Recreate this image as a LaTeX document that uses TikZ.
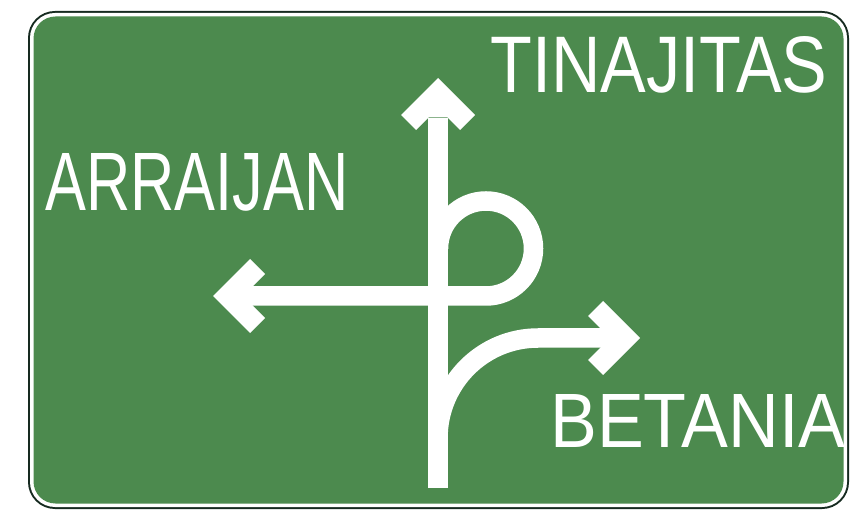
\documentclass[tikz,border=0pt]{standalone}
\usepackage{fontspec}
\setmainfont{Liberation Sans}
\usepackage{graphicx}
\usetikzlibrary{positioning}
\definecolor{signgreen}{RGB}{76,138,78}
\definecolor{signedge}{RGB}{22,42,32}

\begin{document}
\begin{tikzpicture}[
  x=1pt, y=1pt,
  road/.style={white, line width=19.5pt},
  dest/.style={white, inner sep=0pt, anchor=south west},
  pics/chevron/.style={code={
    \fill[white] (0,0) -- (-37,-37) -- (-22,-52) -- (-9.5,-39.5)
      -- (9.5,-39.5) -- (22,-52) -- (37,-37) -- cycle;}},
]
  \useasboundingbox (0,0) rectangle (850,511);
  \fill[signedge, rounded corners=27pt] (28,2) rectangle (849,500);
  \fill[white, rounded corners=25pt] (30,4) rectangle (847,498);
  \fill[signgreen, rounded corners=22pt] (33.5,7.5) rectangle (843.5,494.5);

  \coordinate (base) at (438,23);
  \coordinate (ntip) at (438,433);
  \coordinate (wtip) at (213,215);
  \coordinate (etip) at (640,173);
  \coordinate (loopin) at (486,215);
  \coordinate (fork) at (438,73);

  \draw[road] (base) -- ([yshift=-40pt]ntip);
  \draw[road] ([xshift=38pt]wtip) -- (loopin)
    arc[start angle=-90, end angle=180, radius=47.5];
  \draw[road] (fork) arc[start angle=180, end angle=90, radius=100]
    -- ([xshift=-38pt]etip);

  \foreach \tip/\ang in {ntip/0, wtip/90, etip/-90}
    \pic[rotate=\ang] at (\tip) {chevron};

  \node[dest] (tinajitas) at (490,418) {\resizebox{337pt}{56pt}{TINAJITAS}};
  \node[dest] (arraijan) at (45,299) {\resizebox{303pt}{57pt}{ARRAIJAN}};
  \node[dest] (betania) at (550,63) {\resizebox{295pt}{53pt}{BETANIA}};
\end{tikzpicture}
\end{document}
